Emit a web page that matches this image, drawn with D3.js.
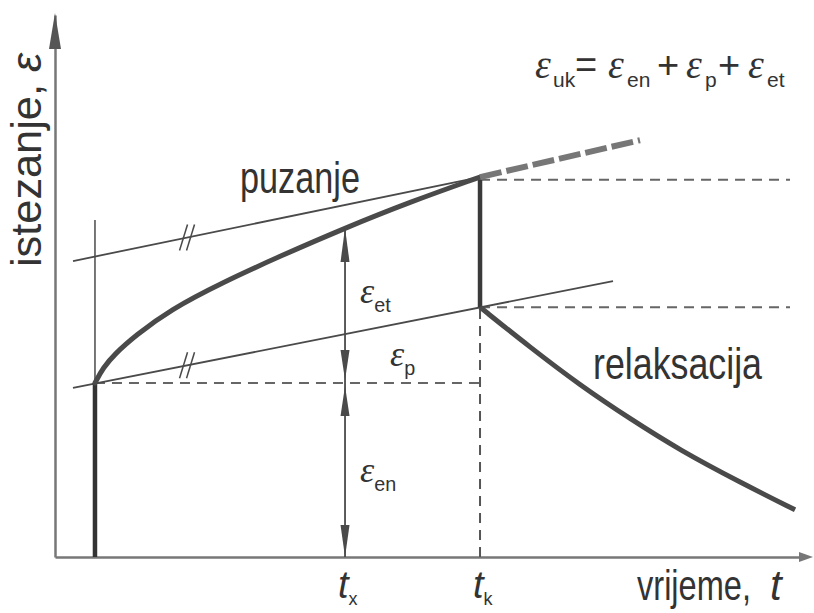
<!DOCTYPE html>
<html>
<head>
<meta charset="utf-8">
<script src="https://cdn.jsdelivr.net/npm/d3@7"></script>
<style>
  html, body { margin: 0; padding: 0; background: #fff; }
  svg { display: block; }
  text { fill: #333; font-family: "Liberation Sans Narrow", "Liberation Sans", Arial, sans-serif; }
  .eps { font-family: "Liberation Serif", "DejaVu Serif", serif; font-style: italic; }
</style>
</head>
<body>
<svg width="814" height="613"></svg>
<script>
// time / strain in arbitrary units (0-100)
const creepT   = [5.33, 6.4, 8.0, 10.67, 15.33, 22.4, 30.0, 38.67, 47.33, 56.67];
const creepEps = [32.1, 34.9, 37.5, 40.8, 45.6, 50.7, 55.5, 60.7, 65.5, 70.1];
const creepExtT   = [56.67, 78];
const creepExtEps = [70.1, 76.9];
const relaxT   = [56.67, 63.33, 70, 76.67, 83.33, 91.33, 98.67];
const relaxEps = [46.1, 38.7, 31.7, 25.5, 19.7, 13.8, 8.7];
const upperTanT   = [2.4, 56.67];
const upperTanEps = [54.6, 70.1];
const lowerTanT   = [2.4, 74.4];
const lowerTanEps = [31.2, 50.9];

const t0 = 5.33, tx = 38.67, tk = 56.67, tEnd = 98, tBreak = 17.67;
const epsEn = 32.1, epsK = 69.6, epsRest = 46.1, epsTx = 60.7, epsGuide = 62.2;

const svg = d3.select('svg');
const x = d3.scaleLinear().domain([0, 100]).range([55, 805]);
const y = d3.scaleLinear().domain([0, 100]).range([557, 15]);
const ink = '#4a4a4a';

const zip = (a, b) => a.map((v, i) => [v, b[i]]);
const line = d3.line().x(d => x(d[0])).y(d => y(d[1]));
const curve = d3.line().x(d => x(d[0])).y(d => y(d[1])).curve(d3.curveBasis);

function seg(pts, width, dash, color) {
  return svg.append('path')
    .attr('d', line(pts))
    .attr('fill', 'none')
    .attr('stroke', color || ink)
    .attr('stroke-width', width)
    .attr('stroke-dasharray', dash || null);
}

// arrow head: tip at (px,py), dir = 'up' | 'down' | 'right'
function head(px, py, dir, len, half, color) {
  let pts;
  if (dir === 'up') pts = [[px, py], [px - half, py + len], [px + half, py + len]];
  else if (dir === 'down') pts = [[px, py], [px - half, py - len], [px + half, py - len]];
  else pts = [[px, py], [px - len, py - half], [px - len, py + half]];
  svg.append('path').attr('d', 'M' + pts.join('L') + 'Z').attr('fill', color || ink);
}

// axes (no ticks, just the arrows)
const axisStyle = g => g.select('.domain').attr('stroke', '#777').attr('stroke-width', 2.5);
svg.append('g').attr('transform', `translate(0,${y(0)})`)
  .call(d3.axisBottom(x).tickValues([]).tickSizeOuter(0)).call(axisStyle);
svg.append('g').attr('transform', `translate(${x(0)},0)`)
  .call(d3.axisLeft(y).tickValues([]).tickSizeOuter(0)).call(axisStyle);
head(x(0), y(100) - 2, 'up', 36, 6, '#555');
head(x(100) + 8, y(0), 'right', 14, 5, '#777');

// guide lines
seg([[t0, 0], [t0, epsGuide]], 1.5);
seg([[t0, epsEn], [tk, epsEn]], 2, '10,7', '#666');
seg([[tk, epsK], [tEnd, epsK]], 2, '10,7', '#666');
seg([[tk, epsRest], [tEnd, epsRest]], 2, '10,7', '#666');
seg([[tk, 0], [tk, epsRest]], 2, '10,7', '#555');

// tangents
seg(zip(upperTanT, upperTanEps), 1.8);
seg(zip(lowerTanT, lowerTanEps), 1.8);

// break marks "//"
function breakMark(ts, es) {
  const e = es[0] + (es[1] - es[0]) * (tBreak - ts[0]) / (ts[1] - ts[0]);
  const bx = x(tBreak), by = y(e);
  [-4, 3].forEach(o => {
    svg.append('path')
      .attr('d', `M${bx + o - 4},${by + 13}L${bx + o + 4},${by - 13}`)
      .attr('stroke', ink).attr('stroke-width', 1.5).attr('fill', 'none');
  });
}
breakMark(upperTanT, upperTanEps);
breakMark(lowerTanT, lowerTanEps);

// instantaneous jumps
seg([[t0, 0], [t0, epsEn]], 4.5, null, '#333');
seg([[tk, epsRest], [tk, epsK]], 4.5, null, '#3a3a3a');

// creep and relaxation curves
svg.append('path').attr('d', curve(zip(creepT, creepEps)))
  .attr('fill', 'none').attr('stroke', ink).attr('stroke-width', 5).attr('stroke-linecap', 'round');
seg(zip(creepExtT, creepExtEps), 6, '22,5', '#777');
svg.append('path').attr('d', curve(zip(relaxT, relaxEps)))
  .attr('fill', 'none').attr('stroke', ink).attr('stroke-width', 5);

// dimension arrows at t_x
seg([[tx, 0], [tx, epsTx]], 1.8);
head(x(tx), y(epsTx), 'up', 34, 4.5);
head(x(tx), y(epsEn) - 3, 'down', 30, 4.5);
head(x(tx), y(epsEn) + 3, 'up', 30, 4.5);
head(x(tx), y(0), 'down', 32, 4.5);

// labels
function label(px, py, str, size, len) {
  const t = svg.append('text').attr('x', px).attr('y', py).style('font-size', size + 'px');
  if (len) t.attr('textLength', len).attr('lengthAdjust', 'spacingAndGlyphs');
  t.text(str);
  return t;
}
function epsLabel(px, py, sub, size) {
  const t = svg.append('text').attr('x', px).attr('y', py);
  t.append('tspan').attr('class', 'eps').style('font-size', size + 'px').text('ε');
  t.append('tspan').attr('dy', size * 0.25).style('font-size', (size * 0.55) + 'px').text(sub);
  return t;
}

label(240, 193, 'puzanje', 44, 120);
label(593, 379, 'relaksacija', 44, 169);
label(637, 600, 'vrijeme,', 42, 114);
label(770, 600, 't', 42).style('font-style', 'italic');

const yl = svg.append('text').attr('transform', 'translate(41,267) rotate(-90)')
  .style('font-size', '42px').attr('textLength', 214).attr('lengthAdjust', 'spacingAndGlyphs');
yl.append('tspan').text('istezanje, ');
yl.append('tspan').style('font-style', 'italic').text('ε');

epsLabel(360, 303, 'et', 36);
epsLabel(390, 366, 'p', 36);
epsLabel(360, 482, 'en', 36);

[[tx, 'x'], [tk, 'k']].forEach(([t, s]) => {
  const tl = svg.append('text').attr('x', x(t) - 7).attr('y', 598);
  tl.append('tspan').style('font-size', '38px').style('font-style', 'italic').text('t');
  tl.append('tspan').attr('dy', 7).style('font-size', '18px').text(s);
});

// formula
const parts = [
  ['ε', 535, 78, 'eps', 40], ['uk', 553, 87, '', 21], ['=', 575, 78, '', 38],
  ['ε', 608, 78, 'eps', 40], ['en', 627, 87, '', 21], ['+', 657, 78, '', 38],
  ['ε', 686, 78, 'eps', 40], ['p', 705, 87, '', 21], ['+', 718, 78, '', 38],
  ['ε', 748, 78, 'eps', 40], ['et', 767, 87, '', 21]
];
parts.forEach(([s, px, py, cls, size]) => {
  svg.append('text').attr('x', px).attr('y', py).attr('class', cls)
    .style('font-size', size + 'px').text(s);
});
</script>
</body>
</html>
